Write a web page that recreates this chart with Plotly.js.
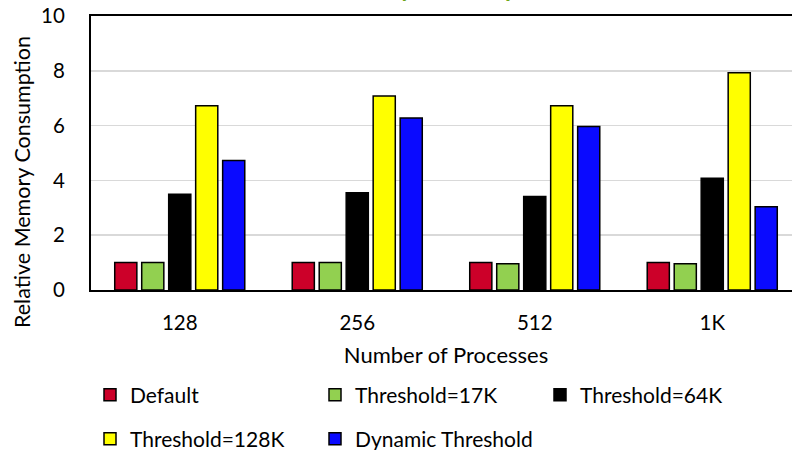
<!DOCTYPE html>
<html>
<head>
<meta charset="utf-8">
<script src="https://cdn.plot.ly/plotly-3.0.1.min.js"></script>
<style>
html,body{margin:0;padding:0;overflow:hidden;background:#fff;}
#chart{width:802px;height:450px;}
</style>
</head>
<body>
<div id="chart"></div>
<script>
var categories = ["128", "256", "512", "1K"];
var seriesNames = ["Default", "Threshold=17K", "Threshold=64K", "Threshold=128K", "Dynamic Threshold"];
var defaultVals = [1.0, 1.0, 1.0, 1.0];
var t17Vals = [1.0, 1.0, 0.96, 0.96];
var t64Vals = [3.49, 3.55, 3.41, 4.08];
var t128Vals = [6.72, 7.08, 6.72, 7.93];
var dynamicVals = [4.73, 6.28, 5.97, 3.04];
var seriesColors = ["#CC0029", "#92D050", "#000000", "#FFFF00", "#0A0AFF"];
var titleText = "Memory Consumption";
var xTitle = "Number of Processes";
var yTitle = "Relative Memory Consumption";

var FONT = "Lato, 'Noto Sans', sans-serif";
var allVals = [defaultVals, t17Vals, t64Vals, t128Vals, dynamicVals];
var legendOf = ["legend", "legend", "legend", "legend2", "legend2"];
var legendWidths = [180, 180, 180, 180, 230];

var traces = allVals.map(function(v, i){
  return {
    type: "bar",
    name: seriesNames[i],
    x: categories,
    y: v,
    legend: legendOf[i],
    legendwidth: legendWidths[i],
    marker: {color: seriesColors[i], line: {color: "#000000", width: 1.5}},
    hoverinfo: "y"
  };
});

var legendCommon = {
  orientation: "h",
  xref: "container", yref: "container",
  xanchor: "left", yanchor: "middle",
  font: {family: FONT, size: 21, color: "#000"},
  entrywidthmode: "pixels", entrywidth: 180,
  itemwidth: 30,
  bgcolor: "rgba(0,0,0,0)",
  traceorder: "normal"
};

var layout = {
  width: 802, height: 450,
  margin: {l: 91, r: 1, t: 16, b: 160},
  paper_bgcolor: "#ffffff",
  plot_bgcolor: "#ffffff",
  font: {family: FONT, color: "#000"},
  barmode: "group",
  bargap: 0.24,
  bargroupgap: 0.18,
  showlegend: true,
  legend: Object.assign({}, legendCommon, {x: 90/802, y: 1 - 395/450}),
  legend2: Object.assign({}, legendCommon, {x: 90/802, y: 1 - 439/450}),
  xaxis: {
    type: "category",
    showline: true, mirror: true, linecolor: "#000", linewidth: 2,
    showgrid: false, ticks: "",
    tickfont: {family: FONT, size: 20.5, color: "#000"},
    ticklabelstandoff: 13,
    title: {text: xTitle, font: {family: FONT, size: 22, color: "#000"}, standoff: 15}
  },
  yaxis: {
    range: [0, 10], dtick: 2,
    showline: true, mirror: true, linecolor: "#000", linewidth: 2,
    showgrid: true, gridcolor: "#D9D9D9", gridwidth: 1.5,
    zeroline: false, ticks: "",
    tickfont: {family: FONT, size: 20.5, color: "#000"},
    ticklabelstandoff: 20
  },
  annotations: [
    {
      text: titleText, showarrow: false,
      xref: "paper", yref: "paper",
      x: (441 - 91) / 710, y: 1, xanchor: "center", yanchor: "bottom", yshift: 12,
      font: {family: FONT, size: 24, color: "#6EA51A", weight: "bold"}
    },
    {
      text: yTitle, showarrow: false, textangle: -90,
      xref: "paper", yref: "paper",
      x: (22 - 91) / 710, y: (290 - 182) / 274, xanchor: "center", yanchor: "middle",
      font: {family: FONT, size: 21.5, color: "#000"}
    }
  ]
};

Plotly.newPlot("chart", traces, layout, {displayModeBar: false, staticPlot: true});
</script>
</body>
</html>
